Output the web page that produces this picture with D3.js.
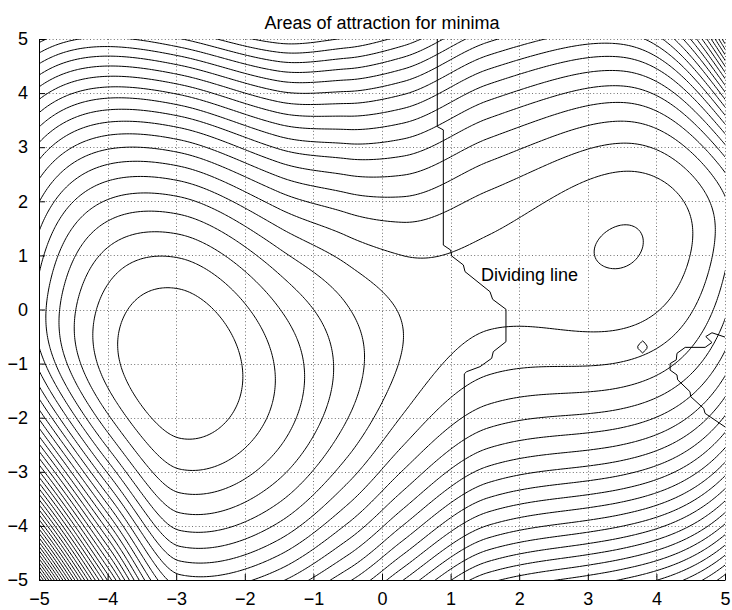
<!DOCTYPE html>
<html>
<head>
<meta charset="utf-8">
<script src="https://cdn.jsdelivr.net/npm/d3@7"></script>
<style>
  html, body { margin: 0; padding: 0; background: #fff; }
  svg text { font-family: "Liberation Sans", Arial, Helvetica, sans-serif; fill: #000; }
</style>
</head>
<body>
<svg id="chart" width="732" height="610"></svg>
<script>
// ---- chart text and axes -------------------------------------------------
const TITLE = "Areas of attraction for minima";
const X_TICKS = [-5, -4, -3, -2, -1, 0, 1, 2, 3, 4, 5];
const Y_TICKS = [-5, -4, -3, -2, -1, 0, 1, 2, 3, 4, 5];
const CONTOUR_LEVELS = d3.range(1, 90);

// ---- surface description -------------------------------------------------
// floor of the valley joining the two basins: y = m(x)
const VALLEY_X = [-5.0, -2.95, -1.5, -0.5, 0.3, 1.55, 3.48, 5.0];
const VALLEY_Y = [-0.1, -1.0, -1.3, -1.0, -0.5, 0.5, 1.17, 1.5];
// steepness across the valley, above and below its floor
const CURV_UP_X = [-5.0, -2.95, 0.0, 3.48, 5.0];
const CURV_UP = [0.53, 0.526, 0.45, 0.5, 0.5];
const CURV_DOWN_X = [-5.0, -4.0, -2.95, -1.5, 0.0, 3.0, 5.0];
const CURV_DOWN = [1.5, 0.95, 0.526, 0.56, 0.5, 0.45, 0.45];
const CURV_BLEND = 1.2;                   // width of the change-over at the valley floor
const UPPER_RIGHT_RISE = [1.0, 0.6];      // extra steepness toward (5,5): amount, length scale
// height along the valley floor: left minimum, saddle, right minimum
const WELL_X = [-2.95, 1.55, 3.48];
const SADDLE_HEIGHT = 6.6;
const LEFT_WALL = [1.2, 0.03];            // quadratic, quartic terms left of the deep minimum
const SHOULDER = [0.2, 0.4, 0.9];         // gentle rise west of the saddle: height, centre, width
const PIT = [3.8, -0.7, 1.2, 0.11, 0.135]; // x, y, depth, half-width, half-height

// ---- dividing lines between the areas of attraction ----------------------
const DIVIDE_MAIN_X = [0.806, 0.806, 0.894, 0.894, 1.0, 1.016, 1.186, 1.21, 1.574, 1.613, 1.807, 1.807, 1.622, 1.599, 1.429, 1.234, 1.2, 1.2];
const DIVIDE_MAIN_Y = [5.0, 3.38, 3.32, 1.19, 1.1, 0.989, 0.823, 0.70, 0.329, 0.188, 0.004, -0.595, -0.78, -0.902, -1.057, -1.149, -1.19, -5.0];
const DIVIDE_RIGHT_X = [5.0, 4.81, 4.72, 4.81, 4.71, 4.42, 4.30, 4.29, 4.2, 4.2, 4.30, 4.31, 4.49, 4.5, 4.69, 4.71, 5.0];
const DIVIDE_RIGHT_Y = [-0.51, -0.43, -0.50, -0.61, -0.70, -0.70, -0.81, -0.93, -1.0, -1.12, -1.21, -1.3, -1.52, -1.61, -1.83, -1.92, -2.17];
const LABEL_TEXT = "Dividing line";
const LABEL_POS = [1.443, 0.518];

// ---- layout ----------------------------------------------------------------
const plot = { left: 39, right: 725, top: 39, bottom: 580 };
const x = d3.scaleLinear().domain([-5, 5]).range([plot.left, plot.right]);
const y = d3.scaleLinear().domain([-5, 5]).range([plot.bottom, plot.top]);

// monotone piecewise cubic through knots
function pchip(xs, ys) {
  const n = xs.length, h = [], d = [], m = new Array(n);
  for (let i = 0; i < n - 1; i++) { h[i] = xs[i + 1] - xs[i]; d[i] = (ys[i + 1] - ys[i]) / h[i]; }
  m[0] = d[0]; m[n - 1] = d[n - 2];
  for (let i = 1; i < n - 1; i++) {
    if (d[i - 1] * d[i] <= 0) m[i] = 0;
    else {
      const w1 = 2 * h[i] + h[i - 1], w2 = h[i] + 2 * h[i - 1];
      m[i] = (w1 + w2) / (w1 / d[i - 1] + w2 / d[i]);
    }
  }
  return v => {
    let i = 0;
    while (i < n - 2 && v > xs[i + 1]) i++;
    const t = (v - xs[i]) / h[i], t2 = t * t, t3 = t2 * t;
    return (2 * t3 - 3 * t2 + 1) * ys[i] + (t3 - 2 * t2 + t) * h[i] * m[i]
      + (-2 * t3 + 3 * t2) * ys[i + 1] + (t3 - t2) * h[i] * m[i + 1];
  };
}

const valley = pchip(VALLEY_X, VALLEY_Y);
const curvUp = pchip(CURV_UP_X, CURV_UP);
const curvDown = pchip(CURV_DOWN_X, CURV_DOWN);

const [r1, r2, r3] = WELL_X;
const sS = r2 - r1, sT = r3 - r1;
const kQ = SADDLE_HEIGHT * 12 / (sS * sS * sS * (2 * sT - sS));
function profile(v) {
  const bump = SHOULDER[0] * Math.exp(-(((v - SHOULDER[1]) / SHOULDER[2]) ** 2));
  if (v < r1) {
    const dd = r1 - v;
    return LEFT_WALL[0] * dd * dd + LEFT_WALL[1] * dd * dd * dd * dd + bump;
  }
  const u = v - r1;
  return kQ * (u ** 4 / 4 - (sS + sT) * u ** 3 / 3 + sS * sT * u * u / 2) + bump;
}

function field(px, py) {
  const dy = py - valley(px);
  const up = curvUp(px) + UPPER_RIGHT_RISE[0] * Math.exp((px - 5) / UPPER_RIGHT_RISE[1]);
  const w = 0.5 * (1 + Math.tanh(dy / CURV_BLEND));
  const a = w * up + (1 - w) * curvDown(px);
  let f = a * dy * dy + profile(px);
  // small flat-bottomed pit with a diamond-shaped rim
  const r = Math.abs(px - PIT[0]) / PIT[3] + Math.abs(py - PIT[1]) / PIT[4];
  if (r < 1) f -= PIT[2] * Math.min(1, (1 - r) / 0.3);
  return f;
}

// sample the surface on a grid a little larger than the axes
const N = 261, G0 = -5.2, GH = 10.4 / (N - 1);
const values = new Float64Array(N * N);
for (let j = 0; j < N; j++)
  for (let i = 0; i < N; i++)
    values[j * N + i] = field(G0 + i * GH, G0 + j * GH);

const contours = d3.contours().size([N, N]).thresholds(CONTOUR_LEVELS)(values);
const toScreen = d3.geoTransform({
  point(gx, gy) {
    this.stream.point(x(G0 + (gx - 0.5) * GH), y(G0 + (gy - 0.5) * GH));
  }
});
const contourPath = d3.geoPath(toScreen);

const svg = d3.select("#chart");
svg.append("defs").append("clipPath").attr("id", "plotClip")
  .append("rect")
  .attr("x", plot.left).attr("y", plot.top)
  .attr("width", plot.right - plot.left).attr("height", plot.bottom - plot.top);

// grid
const grid = svg.append("g").attr("stroke", "#000").attr("stroke-width", 1)
  .attr("stroke-dasharray", "1,2.4").attr("opacity", 0.55);
grid.selectAll("line.gx").data(X_TICKS).join("line")
  .attr("x1", d => Math.round(x(d)) + 0.5).attr("x2", d => Math.round(x(d)) + 0.5)
  .attr("y1", plot.top).attr("y2", plot.bottom);
grid.selectAll("line.gy").data(Y_TICKS).join("line")
  .attr("y1", d => Math.round(y(d)) + 0.5).attr("y2", d => Math.round(y(d)) + 0.5)
  .attr("x1", plot.left).attr("x2", plot.right);

// contour lines
svg.append("g").attr("clip-path", "url(#plotClip)")
  .selectAll("path").data(contours).join("path")
  .attr("d", contourPath)
  .attr("fill", "none").attr("stroke", "#000").attr("stroke-width", 1);

// dividing lines
const divLine = d3.line().x(d => x(d[0])).y(d => y(d[1]));
const dividers = [
  d3.zip(DIVIDE_MAIN_X, DIVIDE_MAIN_Y),
  d3.zip(DIVIDE_RIGHT_X, DIVIDE_RIGHT_Y)
];
svg.append("g").attr("clip-path", "url(#plotClip)")
  .selectAll("path").data(dividers).join("path")
  .attr("d", divLine)
  .attr("fill", "none").attr("stroke", "#000").attr("stroke-width", 1);

svg.append("text").attr("x", x(LABEL_POS[0])).attr("y", y(LABEL_POS[1]))
  .attr("font-size", 18).text(LABEL_TEXT);

// axes
const fmt = d => (d < 0 ? "\u2212" + Math.abs(d) : String(d));
const xAxis = d3.axisBottom(x).tickValues(X_TICKS).tickSizeInner(-6).tickSizeOuter(0)
  .tickPadding(12).tickFormat(fmt);
const yAxis = d3.axisLeft(y).tickValues(Y_TICKS).tickSizeInner(-6).tickSizeOuter(0)
  .tickPadding(11).tickFormat(fmt);
const gx = svg.append("g").attr("transform", `translate(0,${plot.bottom})`).call(xAxis);
const gy = svg.append("g").attr("transform", `translate(${plot.left},0)`).call(yAxis);
[gx, gy].forEach(g => {
  g.select(".domain").attr("stroke", "#000");
  g.selectAll(".tick line").attr("stroke", "#000");
  g.selectAll("text").attr("font-size", 18)
    .attr("font-family", '"Liberation Sans", Arial, Helvetica, sans-serif').attr("fill", "#000");
});

svg.append("text").attr("x", (plot.left + plot.right) / 2).attr("y", 29)
  .attr("text-anchor", "middle").attr("font-size", 18).text(TITLE);
</script>
</body>
</html>
